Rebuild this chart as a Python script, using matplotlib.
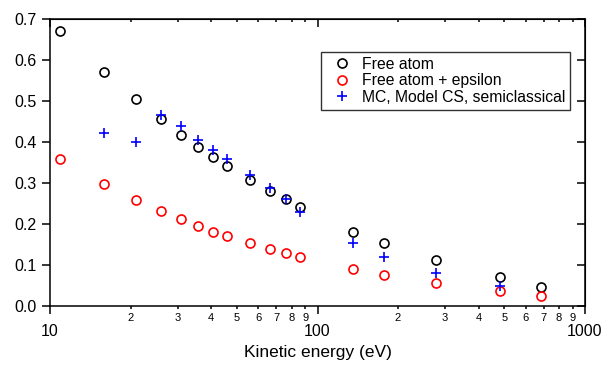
import numpy as np
import matplotlib.pyplot as plt
from matplotlib.ticker import LogLocator, FuncFormatter, NullFormatter

plt.rcParams['font.family'] = ['Liberation Sans', 'DejaVu Sans']

# datos
energy = [10.9, 15.9, 21.0, 26.0, 30.9, 35.7, 40.6, 45.9, 55.9, 66.4, 76.2, 86.0,
          135.7, 177.0, 277.0, 481.0, 685.0]

free_atom = [0.672, 0.571, 0.505, 0.456, 0.418, 0.388, 0.364, 0.342, 0.308, 0.280,
             0.261, 0.242, 0.181, 0.154, 0.112, 0.070, 0.047]

free_atom_eps = [0.358, 0.298, 0.260, 0.232, 0.212, 0.195, 0.181, 0.172, 0.154, 0.140,
                 0.129, 0.120, 0.090, 0.076, 0.056, 0.037, 0.024]

energy_mc = [15.9, 21.0, 26.0, 30.9, 35.7, 40.6, 45.9, 55.9, 66.4, 76.2, 86.0,
             135.7, 177.0, 277.0, 481.0]
mc_cs = [0.422, 0.400, 0.467, 0.439, 0.406, 0.380, 0.358, 0.319, 0.288, 0.261, 0.230,
         0.154, 0.120, 0.080, 0.050]

fig = plt.figure(figsize=(6.1, 3.72), dpi=100)
ax = fig.add_axes([0.082, 0.177, 0.877, 0.771])

ax.plot(energy, free_atom, 'o', mfc='none', mec='black', ms=6.5, mew=1.2, label='Free atom')
ax.plot(energy, free_atom_eps, 'o', mfc='none', mec='red', ms=6.5, mew=1.2,
        label='Free atom + epsilon')
ax.plot(energy_mc, mc_cs, '+', color='blue', ms=7.5, mew=1.2,
        label='MC, Model CS, semiclassical')

ax.set_xscale('log')
ax.set_xlim(10, 1000)
ax.set_ylim(0, 0.7)
ax.set_yticks(np.arange(0, 0.71, 0.1))
ax.yaxis.set_major_formatter(FuncFormatter(lambda v, p: f'{v:.1f}'))

ax.xaxis.set_major_locator(LogLocator(base=10))
ax.xaxis.set_minor_locator(LogLocator(base=10, subs=np.arange(2, 10)))
ax.xaxis.set_major_formatter(FuncFormatter(lambda v, p: f'{v:g}'))
ax.xaxis.set_minor_formatter(FuncFormatter(lambda v, p: f'{int(round(v / 10 ** np.floor(np.log10(v) + 1e-9)))}'))

for s in ax.spines.values():
    s.set_linewidth(1.1)

ax.tick_params(axis='x', which='major', direction='out', length=5.5, width=1.1,
               labelsize=11.5, pad=7.5)
ax.tick_params(axis='x', which='minor', direction='out', length=2.5, width=1.1,
               labelsize=8, pad=2.5)
ax.tick_params(axis='y', which='major', direction='out', length=6, width=1.1,
               labelsize=11.5, pad=3.5)

# ejes espejo con marcas hacia dentro
axt = ax.secondary_xaxis('top')
axt.xaxis.set_major_locator(LogLocator(base=10))
axt.xaxis.set_minor_locator(LogLocator(base=10, subs=np.arange(2, 10)))
axt.xaxis.set_major_formatter(NullFormatter())
axt.xaxis.set_minor_formatter(NullFormatter())
axt.tick_params(which='major', direction='in', length=5.5, width=1.1)
axt.tick_params(which='minor', direction='in', length=2.5, width=1.1)

axr = ax.secondary_yaxis('right')
axr.set_yticks(np.arange(0, 0.71, 0.1))
axr.yaxis.set_major_formatter(NullFormatter())
axr.tick_params(direction='in', length=6, width=1.1)

ax.set_xlabel('Kinetic energy (eV)', fontsize=12.5, labelpad=4)

leg = ax.legend(loc='upper right', bbox_to_anchor=(0.972, 0.886), fontsize=11.3,
                frameon=True, fancybox=False, edgecolor='#333333', framealpha=1,
                handletextpad=0.2, borderpad=0.3, labelspacing=0.1, handlelength=2.1,
                borderaxespad=0)
leg.get_frame().set_linewidth(1.0)

fig.savefig('out.png', dpi=100)
